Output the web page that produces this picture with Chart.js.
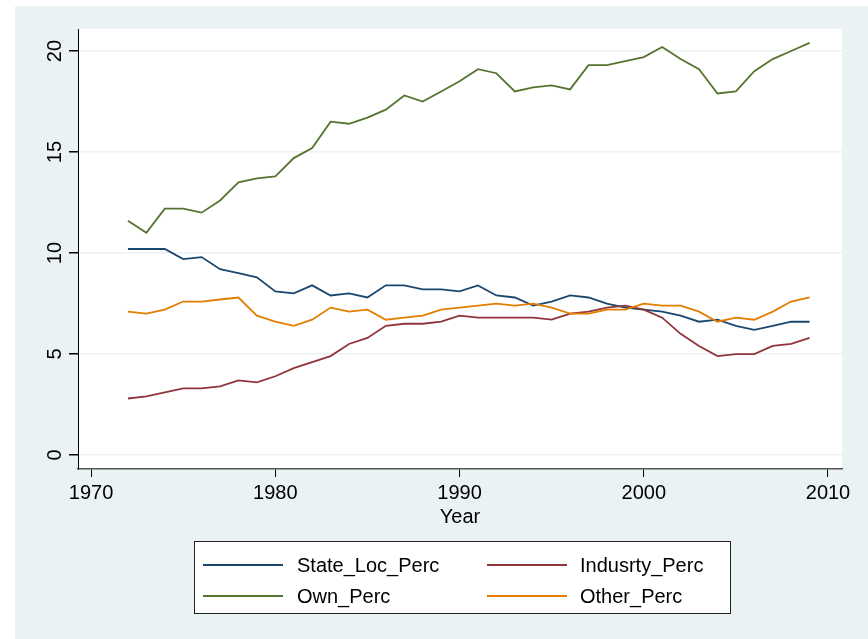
<!DOCTYPE html>
<html><head><meta charset="utf-8">
<script src="https://cdn.jsdelivr.net/npm/chart.js@4/dist/chart.umd.min.js"></script>
<style>html,body{margin:0;padding:0;background:#fff;}canvas{display:block;}</style>
</head><body>
<canvas id="c" width="868" height="639"></canvas>
<script>
const years = [1972,1973,1974,1975,1976,1977,1978,1979,1980,1981,1982,1983,1984,1985,1986,1987,1988,1989,1990,1991,1992,1993,1994,1995,1996,1997,1998,1999,2000,2001,2002,2003,2004,2005,2006,2007,2008,2009];
const stateLocPerc = [10.2,10.2,10.2,9.7,9.8,9.2,9.0,8.8,8.1,8.0,8.4,7.9,8.0,7.8,8.4,8.4,8.2,8.2,8.1,8.4,7.9,7.8,7.4,7.6,7.9,7.8,7.5,7.3,7.2,7.1,6.9,6.6,6.7,6.4,6.2,6.4,6.6,6.6];
const indusrtyPerc = [2.8,2.9,3.1,3.3,3.3,3.4,3.7,3.6,3.9,4.3,4.6,4.9,5.5,5.8,6.4,6.5,6.5,6.6,6.9,6.8,6.8,6.8,6.8,6.7,7.0,7.1,7.3,7.4,7.2,6.8,6.0,5.4,4.9,5.0,5.0,5.4,5.5,5.8];
const ownPerc = [11.6,11.0,12.2,12.2,12.0,12.6,13.5,13.7,13.8,14.7,15.2,16.5,16.4,16.7,17.1,17.8,17.5,18.0,18.5,19.1,18.9,18.0,18.2,18.3,18.1,19.3,19.3,19.5,19.7,20.2,19.6,19.1,17.9,18.0,19.0,19.6,20.0,20.4];
const otherPerc = [7.1,7.0,7.2,7.6,7.6,7.7,7.8,6.9,6.6,6.4,6.7,7.3,7.1,7.2,6.7,6.8,6.9,7.2,7.3,7.4,7.5,7.4,7.5,7.3,7.0,7.0,7.2,7.2,7.5,7.4,7.4,7.1,6.6,6.8,6.7,7.1,7.6,7.8];
const seriesNames = ['State_Loc_Perc','Indusrty_Perc','Own_Perc','Other_Perc'];
const xTicks = [1970,1980,1990,2000,2010];
const yTicks = [0,5,10,15,20];
const xTitle = 'Year';

const colors = ['#1a476f','#90353b','#55752f','#e37e00'];
const FONT = '"Liberation Sans", Arial, Helvetica, sans-serif';
Chart.defaults.font.family = FONT;

function pts(vals){ return years.map((y,i)=>({x:y,y:vals[i]})); }
const allVals = [stateLocPerc, indusrtyPerc, ownPerc, otherPerc];

const bgPlugin = {
  id:'bg',
  beforeDraw(chart){
    const ctx = chart.ctx, a = chart.chartArea;
    ctx.save();
    ctx.fillStyle = '#ffffff';
    ctx.fillRect(0,0,chart.width,chart.height);
    ctx.fillStyle = '#eaf2f3';
    ctx.fillRect(15,6,chart.width-15,chart.height-6);
    ctx.fillStyle = '#ffffff';
    ctx.fillRect(a.left,a.top,a.right-a.left,a.bottom-a.top);
    ctx.restore();
  }
};

const yLabelPlugin = {
  id:'ylabels',
  afterDraw(chart){
    const ctx = chart.ctx, s = chart.scales.y;
    ctx.save();
    ctx.fillStyle = '#000';
    ctx.font = '20px ' + FONT;
    ctx.textAlign = 'center';
    ctx.textBaseline = 'middle';
    yTicks.forEach(v=>{
      const y = s.getPixelForValue(v);
      ctx.save();
      ctx.translate(54, y);
      ctx.rotate(-Math.PI/2);
      ctx.fillText(String(v), 0, 1);
      ctx.restore();
    });
    ctx.restore();
  }
};

const legendPlugin = {
  id:'boxlegend',
  afterDraw(chart){
    const ctx = chart.ctx;
    const bx = 194, by = 541, bw = 536, bh = 72;
    ctx.save();
    ctx.fillStyle = '#fff';
    ctx.fillRect(bx,by,bw,bh);
    ctx.strokeStyle = '#222';
    ctx.lineWidth = 1;
    ctx.strokeRect(bx+0.5,by+0.5,bw,bh);
    const cols = [[203,283,297],[487,567,580]];
    const rows = [565,596];
    ctx.font = '20px ' + FONT;
    ctx.textBaseline = 'middle';
    ctx.textAlign = 'left';
    chart.data.datasets.forEach((ds,i)=>{
      const c = cols[i%2], r = rows[Math.floor(i/2)];
      ctx.strokeStyle = ds.borderColor;
      ctx.lineWidth = 2;
      ctx.beginPath(); ctx.moveTo(c[0],r); ctx.lineTo(c[1],r); ctx.stroke();
      ctx.fillStyle = '#000';
      ctx.fillText(ds.label, c[2], r+1);
    });
    ctx.restore();
  }
};

new Chart(document.getElementById('c'), {
  type:'line',
  data:{
    datasets: seriesNames.map((n,i)=>({
      label:n, data:pts(allVals[i]), borderColor:colors[i], backgroundColor:colors[i],
      borderWidth:1.8, pointRadius:0, tension:0, fill:false, order:3-i
    }))
  },
  options:{
    responsive:false, animation:false, devicePixelRatio:1,
    layout:{padding:{left:0,top:29,right:26,bottom:110}},
    plugins:{legend:{display:false}, tooltip:{enabled:false}},
    scales:{
      x:{
        type:'linear', min:1969.29, max:2010.76,
        afterBuildTicks:s=>{ s.ticks = xTicks.map(v=>({value:v})); },
        afterFit:s=>{ s.height = 60; },
        grid:{drawOnChartArea:false, drawTicks:true, tickLength:8, tickColor:'#000', lineWidth:1},
        border:{display:true, color:'#555', width:1.5},
        ticks:{color:'#000', font:{size:20}, padding:4, maxRotation:0, minRotation:0, autoSkip:false, callback:v=>String(v)},
        title:{display:true, text:xTitle, color:'#000', font:{size:20}, padding:{top:0,bottom:0}}
      },
      y:{
        type:'linear', min:-0.69, max:21.09,
        afterBuildTicks:s=>{ s.ticks = yTicks.map(v=>({value:v})); },
        afterFit:s=>{ s.width = 78; },
        grid:{color:'#eaf2f3', lineWidth:1.5, drawTicks:true, tickLength:9, tickColor:'#000'},
        border:{display:true, color:'#000', width:1},
        ticks:{display:false}
      }
    }
  },
  plugins:[bgPlugin, yLabelPlugin, legendPlugin]
});
</script>
</body></html>
